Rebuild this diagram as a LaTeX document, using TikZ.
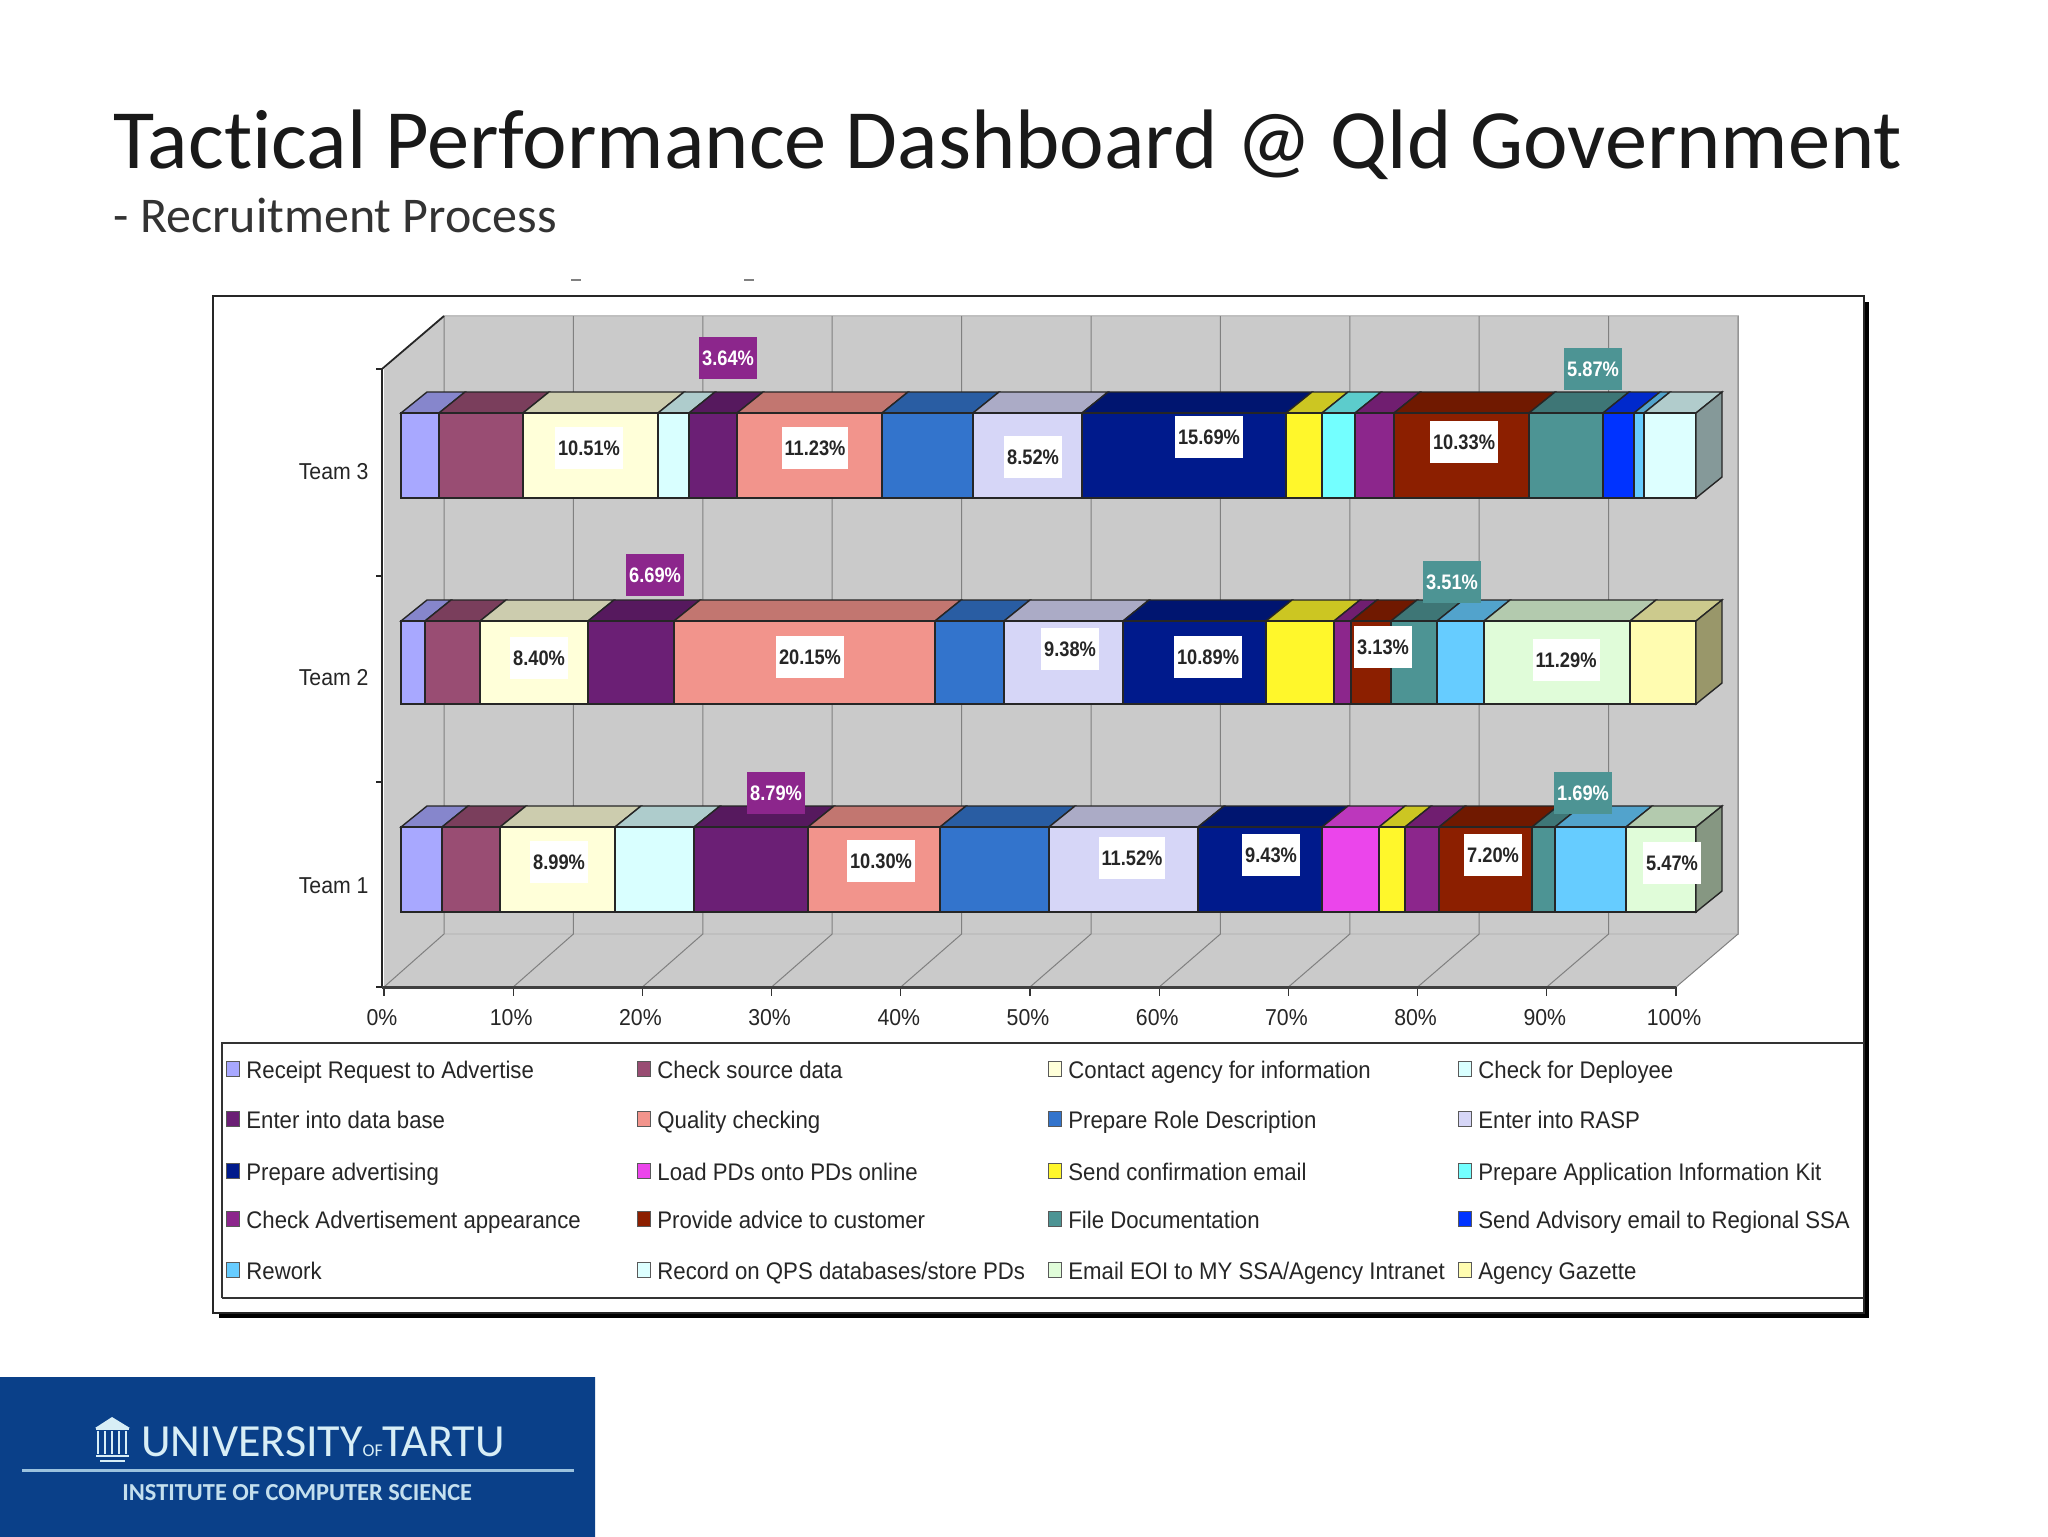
\documentclass[tikz,border=0pt]{standalone}
\usepackage{fontspec}
\setmainfont[Ligatures=NoCommon]{Carlito}
\newfontfamily\chartfont[FakeStretch=0.925]{Liberation Sans}
\newfontfamily\valuefont[FakeStretch=0.87]{Liberation Sans}
\definecolor{receipt}{HTML}{A8A8FF}
\definecolor{source}{HTML}{994D73}
\definecolor{contact}{HTML}{FFFFD9}
\definecolor{deployee}{HTML}{D9FFFF}
\definecolor{enterdb}{HTML}{6B1F75}
\definecolor{quality}{HTML}{F2948C}
\definecolor{role}{HTML}{3374CC}
\definecolor{rasp}{HTML}{D6D6F7}
\definecolor{advert}{HTML}{001A8C}
\definecolor{loadpd}{HTML}{EB45EB}
\definecolor{confirm}{HTML}{FFF72B}
\definecolor{kit}{HTML}{73FFFF}
\definecolor{appear}{HTML}{8C268C}
\definecolor{advice}{HTML}{8C1F00}
\definecolor{filedoc}{HTML}{4D9494}
\definecolor{advisory}{HTML}{0033FF}
\definecolor{rework}{HTML}{66CCFF}
\definecolor{record}{HTML}{DDFFFF}
\definecolor{eoi}{HTML}{E0FCD9}
\definecolor{gazette}{HTML}{FFFCB0}
\definecolor{wall}{HTML}{CACACA}
\definecolor{logolight}{HTML}{D8EEF6}
\definecolor{logoedge}{HTML}{0A4089}
\definecolor{logomid}{HTML}{0E5BA6}
\tikzset{
    barline/.style={draw=black!85,line width=0.7pt},
    gridline/.style={draw=black!50,line width=0.5pt},
    teamlabel/.style={anchor=east,inner sep=0pt,text=black!85,font=\chartfont\fontsize{11.5}{12}\selectfont},
    axislabel/.style={anchor=center,inner sep=0pt,text=black!85,font=\chartfont\fontsize{11.5}{12}\selectfont},
    legendtext/.style={anchor=base west,inner sep=0pt,text=black!85,font=\chartfont\fontsize{12}{13}\selectfont},
    swatch/.style={draw=black!65,line width=0.6pt,minimum width=6.5pt,minimum height=7.5pt,inner sep=0pt},
    valbox/.style={inner xsep=1.5pt,inner ysep=0pt,minimum height=21pt,font=\valuefont\bfseries\fontsize{10.5}{11}\selectfont},
    plainval/.style={fill=white,text=black!85},
    purpleval/.style={fill=appear,text=white},
    tealval/.style={fill=filedoc,text=white}
}
\newcommand{\teambar}[4]{
    \foreach \xa/\xb/\col in {#3} {
        \draw[barline,fill=\col!80!black] (\xa,#1) -- (\xa+26,#1-21) -- (\xb+26,#1-21) -- (\xb,#1) -- cycle;
        \draw[barline,fill=\col] (\xa,#1) rectangle (\xb,#2);
    }
    \draw[barline,fill=#4!60!black] (1696,#1) -- (1722,#1-21) -- (1722,#2-21) -- (1696,#2) -- cycle;
}
\begin{document}
\begin{tikzpicture}[x=0.5pt,y=-0.5pt]
    \fill[white] (0,0) rectangle (2048,1536);
    \useasboundingbox (0,0) rectangle (2048,1536);
    \node[anchor=base west,inner sep=0pt,text=black!90,font=\fontsize{42.2}{44}\selectfont] (title) at (113,168)
        {Tactical Performance Dashboard @ Qld Government};
    \node[anchor=base west,inner sep=0pt,font=\fontsize{25}{26}\selectfont,text=black!80] (subtitle) at (113,232)
        {- Recruitment Process};
    \draw[black!50,line width=1pt] (571,280) -- (581,280) (744,280) -- (754,280);
    \fill[black] (219,302) rectangle (1869,1318);
    \draw[black!85,fill=white,line width=1pt] (213,296) rectangle (1864,1313);
    \fill[wall] (384,369) -- (444,316) -- (1738,316) -- (1738,934) -- (1676,987) -- (384,987) -- cycle;
    \draw[black!25,line width=0.6pt] (444,934) -- (1738,934) -- (1738,316) -- (444,316);
    \foreach \k in {0,...,10} {
        \draw[gridline] (444+129.4*\k,316) -- (444+129.4*\k,934) -- (384+129.2*\k,987);
        \draw[black!80,line width=0.6pt] (384+129.2*\k,987) -- (384+129.2*\k,996);
    }
    \foreach \k/\tx in {0/0\%,1/10\%,2/20\%,3/30\%,4/40\%,5/50\%,6/60\%,7/70\%,8/80\%,9/90\%,10/100\%} {
        \node[axislabel] (tick\k) at (382+129.2*\k,1018) {\tx};
    }
    \draw[black!85,line width=0.9pt] (444,316) -- (382,369) -- (382,987);
    \draw[black!75,line width=1.5pt] (382,987) -- (1676,987);
    \draw[black!85,line width=0.7pt] (376,369) -- (382,369) (376,576) -- (382,576) (376,782) -- (382,782) (376,987) -- (382,987);
    \teambar{413}{498}{401/439/receipt,439/523/source,523/658/contact,658/689/deployee,689/737/enterdb,737/882/quality,882/973/role,973/1082/rasp,1082/1286/advert,1286/1322/confirm,1322/1355/kit,1355/1394/appear,1394/1529/advice,1529/1603/filedoc,1603/1634/advisory,1634/1644/rework,1644/1696/record}{record}
    \teambar{621}{704}{401/425/receipt,425/480/source,480/588/contact,588/674/enterdb,674/935/quality,935/1004/role,1004/1123/rasp,1123/1266/advert,1266/1334/confirm,1334/1351/appear,1351/1391/advice,1391/1437/filedoc,1437/1484/rework,1484/1630/eoi,1630/1696/gazette}{gazette}
    \teambar{827}{912}{401/442/receipt,442/500/source,500/615/contact,615/694/deployee,694/808/enterdb,808/940/quality,940/1049/role,1049/1198/rasp,1198/1322/advert,1322/1379/loadpd,1379/1405/confirm,1405/1439/appear,1439/1532/advice,1532/1555/filedoc,1555/1626/rework,1626/1696/eoi}{eoi}
    \node[teamlabel] (team3) at (369,472) {Team 3};
    \node[teamlabel] (team2) at (369,678) {Team 2};
    \node[teamlabel] (team1) at (369,886) {Team 1};
    \foreach \vx/\vy/\vstyle/\vtxt [count=\i] in {
        589/448/plainval/10.51\%,728/358/purpleval/3.64\%,815/448/plainval/11.23\%,1033/457/plainval/8.52\%,
        1209/437/plainval/15.69\%,1464/442/plainval/10.33\%,1593/369/tealval/5.87\%,
        539/658/plainval/8.40\%,655/575/purpleval/6.69\%,810/657/plainval/20.15\%,1070/649/plainval/9.38\%,
        1208/657/plainval/10.89\%,1383/647/plainval/3.13\%,1452/582/tealval/3.51\%,1566/660/plainval/11.29\%,
        559/862/plainval/8.99\%,776/793/purpleval/8.79\%,881/861/plainval/10.30\%,1132/858/plainval/11.52\%,
        1271/855/plainval/9.43\%,1493/855/plainval/7.20\%,1583/793/tealval/1.69\%,1672/863/plainval/5.47\%} {
        \node[valbox,\vstyle] (val\i) at (\vx,\vy) {\vtxt};
    }
    \draw[black!80,line width=1pt] (222,1298) -- (222,1043) -- (1864,1043) (222,1298) -- (1864,1298);
    \foreach \lx/\ly/\col/\txt [count=\i] in {
        233/1069/receipt/Receipt Request to Advertise,644/1069/source/Check source data,
        1055/1069/contact/Contact agency for information,1465/1069/deployee/Check for Deployee,
        233/1119/enterdb/Enter into data base,644/1119/quality/Quality checking,
        1055/1119/role/Prepare Role Description,1465/1119/rasp/Enter into RASP,
        233/1171/advert/Prepare advertising,644/1171/loadpd/Load PDs onto PDs online,
        1055/1171/confirm/Send confirmation email,1465/1171/kit/Prepare Application Information Kit,
        233/1219/appear/Check Advertisement appearance,644/1219/advice/Provide advice to customer,
        1055/1219/filedoc/File Documentation,1465/1219/advisory/Send Advisory email to Regional SSA,
        233/1270/rework/Rework,644/1270/record/{Record on QPS databases/store PDs},
        1055/1270/eoi/{Email EOI to MY SSA/Agency Intranet},1465/1270/gazette/Agency Gazette} {
        \node[swatch,fill=\col] (key\i) at (\lx,\ly) {};
        \node[legendtext] (entry\i) at (\lx+13,\ly+9) {\txt};
    }
    \shade[left color=logoedge,middle color=logomid,right color=logoedge] (0,1377) rectangle (595,1536);
    \fill[logolight] (112,1417) -- (95,1428) -- (130,1428) -- cycle;
    \foreach \k in {0,...,4} {
        \draw[logolight,line width=1pt] (98+7*\k,1431) -- (98+7*\k,1454);
    }
    \draw[logolight,line width=1pt] (96,1429) -- (129,1429) (96,1456) -- (129,1456) (100,1461) -- (125,1461);
    \node[anchor=base west,inner sep=0pt,text=logolight,font=\fontsize{23}{24}\selectfont] (logoname) at (141,1456)
        {UNIVERSITY{\fontsize{9}{10}\selectfont OF}TARTU};
    \draw[logolight!70!logomid,line width=1.5pt] (22,1470) -- (574,1470);
    \node[anchor=base west,inner sep=0pt,text=logolight!90!logomid,font=\bfseries\fontsize{12.2}{13}\selectfont] (logounit) at (122,1500)
        {INSTITUTE OF COMPUTER SCIENCE};
\end{tikzpicture}
\end{document}
